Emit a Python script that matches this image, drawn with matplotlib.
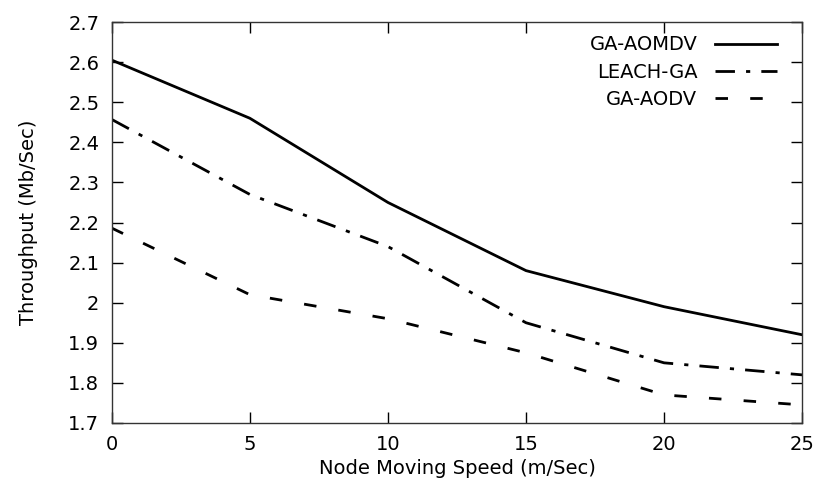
import matplotlib
matplotlib.use("Agg")
from matplotlib import pyplot as plt

speeds = [0, 5, 10, 15, 20, 25]
ga_aomdv = [2.605, 2.46, 2.25, 2.08, 1.99, 1.92]
leach_ga = [2.457, 2.27, 2.14, 1.95, 1.85, 1.82]
ga_aodv = [2.186, 2.02, 1.96, 1.875, 1.77, 1.745]

plt.rcParams['font.family'] = ['DejaVu Sans']

fig = plt.figure(figsize=(8.16, 4.95), dpi=100)
ax = fig.add_axes([0.137, 0.1455, 0.846, 0.81])

ax.plot(speeds, ga_aomdv, color="black", linewidth=2, label="GA-AOMDV")
ax.plot(speeds, leach_ga, color="black", linewidth=2, dashes=(7, 4, 1.5, 4), label="LEACH-GA")
ax.plot(speeds, ga_aodv, color="black", linewidth=2, dashes=(4.5, 8), label="GA-AODV")

ax.set_xlim(0, 25)
ax.set_ylim(1.7, 2.7)
ax.set_xticks([0, 5, 10, 15, 20, 25])
ax.set_yticks([1.7, 1.8, 1.9, 2.0, 2.1, 2.2, 2.3, 2.4, 2.5, 2.6, 2.7])
ax.set_yticklabels(["1.7", "1.8", "1.9", "2", "2.1", "2.2", "2.3", "2.4", "2.5", "2.6", "2.7"])
ax.tick_params(direction="in", length=8, width=1, top=True, right=True, labelsize=14, pad=9)
for s in ax.spines.values():
    s.set_linewidth(1)
    s.set_color("#333333")

ax.set_xlabel("Node Moving Speed (m/Sec)", fontsize=14, labelpad=3)
ax.set_ylabel("Throughput (Mb/Sec)", fontsize=14, labelpad=22)

ax.legend(loc="upper right", bbox_to_anchor=(0.975, 0.986), borderaxespad=0,
          frameon=False, markerfirst=False, fontsize=14,
          handlelength=3.2, labelspacing=0.42, handletextpad=0.9)

fig.savefig("out.png", dpi=100)
